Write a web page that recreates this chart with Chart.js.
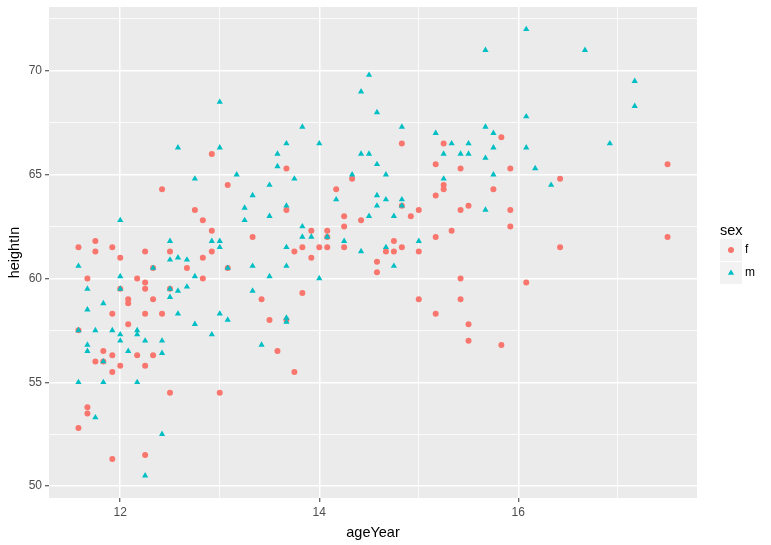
<!DOCTYPE html>
<html>
<head>
<meta charset="utf-8">
<script src="https://cdn.jsdelivr.net/npm/chart.js@4.4.1/dist/chart.umd.min.js"></script>
<style>
  html, body { margin: 0; padding: 0; background: #fff; }
  #chart { display: block; }
</style>
</head>
<body>
<canvas id="chart" width="771" height="545"></canvas>
<script>
// heightIn vs ageYear, split by sex
const fAge = [11.75,11.58,11.92,11.75,12.25,12.5,12.33,12.0,11.67,12.17,12.25,12.25,12.0,12.5,12.33,12.08,12.08,11.92,12.25,12.42,12.08,11.58,11.83,11.92,12.17,12.33,11.75,11.83,12.0,12.25,11.92,
  12.5,11.67,11.67,11.58,12.25,11.92, 12.42,
  12.92,13.67,13.08,12.75,13.67,12.83,12.92,13.33,
  13.75,12.83,12.92,12.67,13.08,12.83,13.42,13.5,13.67,13.58,13.75,13.0,
  14.83,14.33,14.17,14.83,14.25,14.42,14.92,15.0,13.92,14.08,14.25,14.08,14.75,13.83,14.0,14.08,14.25,14.83,
  14.67,14.75,15.0,13.92,14.58,14.58,13.83,15.0,
  15.83,15.25,15.17,15.42,15.92,15.25,15.25,15.75,15.17,15.42,15.5,15.92,15.33,15.92,15.17,
  15.42,16.08,15.42,15.17,15.5,15.5,15.83,
  17.5,16.42,17.5,16.42];
const fHeight = [61.8,61.5,61.5,61.3,61.3,61.3,60.5,61.0,60.0,60.0,59.8,59.5,59.5,59.5,59.0,59.0,58.8,58.3,58.3,58.3,57.8,57.5,56.5,56.3,56.3,56.3,56.0,56.0,55.8,55.8,55.5,
  54.5,53.8,53.5,52.8,51.5,51.3, 64.3,
  66.0,65.3,64.5,63.3,63.3,62.8,62.3,62.0,
  61.3,61.0,61.3,60.5,60.5,60.0,59.0,58.0,58.0,56.5,55.5,54.5,
  66.5,64.8,64.3,63.5,63.0,62.8,63.0,63.3,62.3,62.3,62.5,62.0,61.8,61.5,61.5,61.5,61.5,61.5,
  61.3,61.3,61.3,61.0,60.8,60.3,59.3,59.0,
  66.8,66.5,65.5,65.3,65.3,64.5,64.3,64.3,64.0,63.3,63.5,63.3,62.3,62.5,62.0,
  60.0,59.8,59.0,58.3,57.8,57.0,56.8,
  65.5,64.8,62.0,61.5];

const mAge = [12.5,12.5,12.58,11.58,12.33,12.0,11.67,12.0,12.5,12.58,12.5,11.83,11.67,12.58,11.58,11.75,11.92,12.17,12.0,12.17,12.0,12.25,12.42,11.67,11.67,12.08,12.42,11.83,
  11.58,11.83,12.17,11.75,12.42,12.25, 12.0,
  13.0,12.58,13.0,13.67,13.58,13.58,12.75,13.17,13.75,13.5,13.33,13.25,13.67,13.25,13.5,12.92,13.0,13.0,13.67,
  12.67,13.08,13.33,13.67,12.75,13.5,12.67,13.33,13.0,13.08,12.75,13.67,13.67,12.92,13.42,
  14.5,14.42,14.58,13.83,14.83,14.0,14.42,14.5,14.58,14.33,14.67,14.17,14.58,14.67,14.83,14.58,14.83,14.5,14.75,13.83,13.83,13.92,14.08,14.25,15.0,14.67,
  14.42,14.75,14.0,
  16.08,15.67,16.08,15.17,15.67,15.75,15.33,15.5,15.75,16.08,15.25,15.42,15.5,15.67,16.17,15.75,15.25,15.67,
  16.67,17.17,17.17,16.92,16.33];
const mHeight = [61.8,60.9,61.0,60.6,60.5,60.1,59.5,59.5,59.5,59.4,59.1,58.8,58.5,58.3,57.5,57.5,57.5,57.5,57.3,57.3,57.0,57.0,57.0,56.8,56.5,56.5,56.4,56.0,
  55.0,55.0,55.0,53.3,52.5,50.5, 62.8,
  68.5,66.3,66.3,66.5,66.0,65.4,64.8,65.0,64.8,64.5,64.0,63.4,63.5,62.8,63.0,61.8,61.8,61.5,61.5,
  60.9,60.5,60.6,60.6,60.1,60.1,59.6,59.4,58.3,58.0,57.8,58.1,57.9,57.3,56.8,
  69.8,69.0,68.0,67.3,67.3,66.5,66.0,66.0,65.5,65.0,65.0,63.8,64.0,63.8,63.8,63.5,63.5,63.0,63.0,62.5,62.0,62.0,62.0,61.8,61.8,61.5,
  61.3,60.6,60.0,
  72.0,71.0,67.8,67.0,67.3,67.0,66.5,66.5,66.3,66.3,66.0,66.0,66.0,65.8,65.3,65.0,64.8,63.3,
  71.0,69.5,68.3,66.5,64.5];

const sexLabels = ["f", "m"];
const xMajor = [12, 14, 16];
const xMinor = [13, 15, 17];
const yMajor = [50, 55, 60, 65, 70];
const yMinor = [52.5, 57.5, 62.5, 67.5, 72.5];

const FONT = '"Liberation Sans", Arial, sans-serif';
Chart.defaults.font.family = FONT;

const pts = (xs, ys) => xs.map((x, i) => ({ x: x, y: ys[i] }));

function setTicks(major, minor) {
  return (scale) => {
    scale.ticks = major.concat(minor).sort((a, b) => a - b).map((v) => ({ value: v }));
  };
}

function gridOpts(major) {
  return {
    color: "#ffffff",
    lineWidth: (c) => (major.includes(c.tick && c.tick.value) ? 1.5 : 0.8),
    tickColor: (c) => (major.includes(c.tick && c.tick.value) ? "#333333" : "rgba(0,0,0,0)"),
    tickLength: 4,
    tickWidth: 1,
  };
}

const panelBg = {
  id: "panelBg",
  beforeDraw(chart) {
    const a = chart.chartArea;
    const ctx = chart.ctx;
    ctx.save();
    ctx.fillStyle = "#EBEBEB";
    ctx.fillRect(a.left, a.top, a.right - a.left, a.bottom - a.top);
    ctx.restore();
  },
};

const sexLegend = {
  id: "sexLegend",
  afterDraw(chart) {
    const ctx = chart.ctx;
    ctx.save();
    ctx.fillStyle = "#000";
    ctx.font = "14.5px " + FONT;
    ctx.textBaseline = "alphabetic";
    ctx.fillText("sex", 720, 235);
    chart.data.datasets.forEach((ds, i) => {
      const top = 239 + i * 23;
      ctx.fillStyle = "#F2F2F2";
      ctx.fillRect(720, top, 22, 22);
      ctx.fillStyle = ds.backgroundColor;
      ctx.strokeStyle = ds.backgroundColor;
      Chart.helpers.drawPoint(ctx, { pointStyle: ds.pointStyle, radius: ds.pointRadius, borderWidth: 0, rotation: 0 }, 731, top + 11);
      ctx.fillStyle = "#000";
      ctx.font = "12px " + FONT;
      ctx.textBaseline = "middle";
      ctx.fillText(ds.label, 745, top + 11);
    });
    ctx.restore();
  },
};

new Chart(document.getElementById("chart"), {
  type: "scatter",
  data: {
    datasets: [
      {
        label: sexLabels[0],
        data: pts(fAge, fHeight),
        pointStyle: "circle",
        pointRadius: 3,
        backgroundColor: "#F8766D",
        borderWidth: 0,
        order: 2,
      },
      {
        label: sexLabels[1],
        data: pts(mAge, mHeight),
        pointStyle: "triangle",
        pointRadius: 3.6,
        backgroundColor: "#00BFC4",
        borderWidth: 0,
        order: 1,
      },
    ],
  },
  options: {
    responsive: false,
    animation: false,
    layout: { padding: { top: 7, right: 74 } },
    plugins: { legend: { display: false }, tooltip: { enabled: false } },
    scales: {
      x: {
        type: "linear",
        min: 11.284,
        max: 17.796,
        afterBuildTicks: setTicks(xMajor, xMinor),
        afterFit: (s) => { s.height = 47; s.paddingLeft = 0; s.paddingRight = 0; },
        border: { display: false },
        grid: gridOpts(xMajor),
        ticks: {
          color: "#4D4D4D",
          font: { size: 12 },
          padding: 3,
          maxRotation: 0,
          autoSkip: false,
          callback: (v) => (xMajor.includes(v) ? String(v) : ""),
        },
        title: { display: true, text: "ageYear", color: "#000", font: { size: 14.5 }, padding: { top: 0, bottom: 3 } },
      },
      y: {
        type: "linear",
        min: 49.425,
        max: 73.075,
        afterBuildTicks: setTicks(yMajor, yMinor),
        afterFit: (s) => { s.width = 49; s.paddingTop = 0; s.paddingBottom = 0; },
        border: { display: false },
        grid: gridOpts(yMajor),
        ticks: {
          color: "#4D4D4D",
          font: { size: 12 },
          padding: 3,
          autoSkip: false,
          callback: (v) => (yMajor.includes(v) ? String(v) : ""),
        },
        title: { display: true, text: "heightIn", color: "#000", font: { size: 14.5 }, padding: { top: 6, bottom: 0 } },
      },
    },
  },
  plugins: [panelBg, sexLegend],
});
</script>
</body>
</html>
